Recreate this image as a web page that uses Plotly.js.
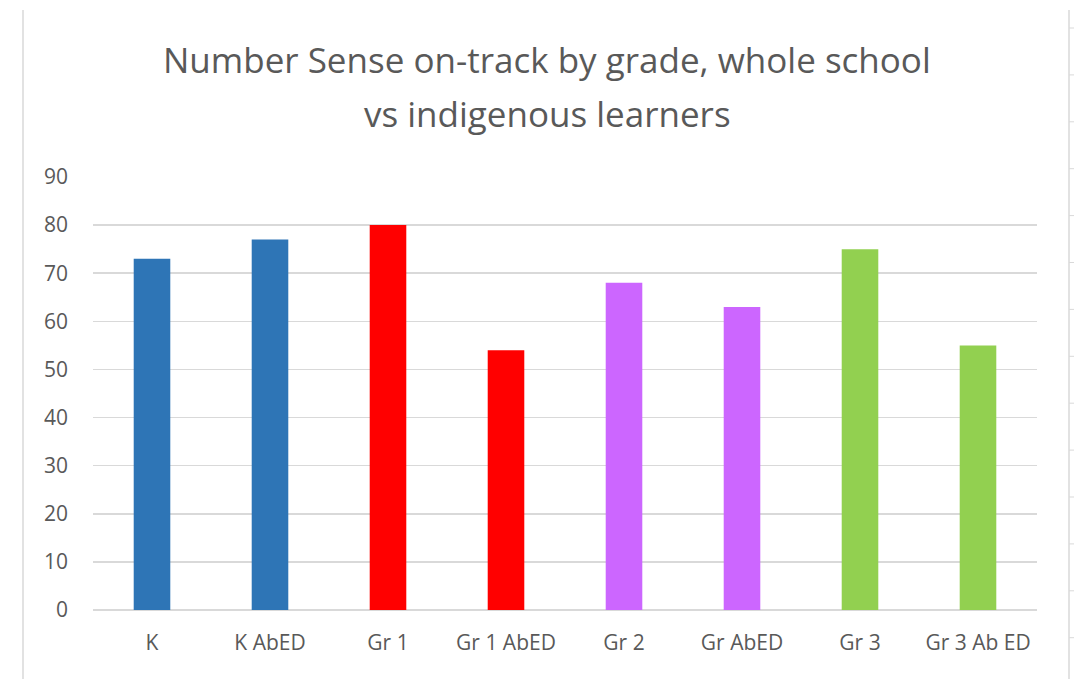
<!DOCTYPE html>
<html>
<head>
<meta charset="utf-8">
<script src="https://cdn.plot.ly/plotly-3.0.1.min.js"></script>
<style>html,body{margin:0;padding:0;background:#fff;}#chart{width:1074px;height:679px;}</style>
</head>
<body>
<div id="chart"></div>
<script>
const categories = ["K", "K AbED", "Gr 1", "Gr 1 AbED", "Gr 2", "Gr AbED", "Gr 3", "Gr 3 Ab ED"];
const values = [73, 77, 80, 54, 68, 63, 75, 55];
const barColors = ["#2E75B6", "#2E75B6", "#FF0000", "#FF0000", "#CC66FF", "#CC66FF", "#92D050", "#92D050"];
const titleLines = ["Number Sense on-track by grade, whole school", "vs indigenous learners"];
const yTicks = [0, 10, 20, 30, 40, 50, 60, 70, 80, 90];

const W = 1074, H = 679;
const L = 93, R = 1037, T = 177, B = 610;
const px = x => (x - L) / (R - L);
const py = y => (B - y) / (B - T);

const shapes = [
  {type: 'line', xref: 'paper', yref: 'paper', x0: px(23), x1: px(23), y0: py(10), y1: py(679), line: {color: '#d9d9d9', width: 1.5}},
  {type: 'line', xref: 'paper', yref: 'paper', x0: px(1069), x1: px(1069), y0: py(10), y1: py(679), line: {color: '#d9d9d9', width: 1.5}}
];
for (let y = 28; y < 679; y += 46.9) {
  shapes.push({type: 'line', xref: 'paper', yref: 'paper', x0: px(1069), x1: px(1074), y0: py(y), y1: py(y), line: {color: '#d9d9d9', width: 1}});
}

const titleFont = {family: 'Open Sans, Noto Sans, sans-serif', size: 35, color: '#595959'};
const annotations = [
  {text: titleLines[0], xref: 'paper', yref: 'paper', x: px(547), y: py(60), showarrow: false, font: titleFont, xanchor: 'center', yanchor: 'middle'},
  {text: titleLines[1], xref: 'paper', yref: 'paper', x: px(547), y: py(113), showarrow: false, font: titleFont, xanchor: 'center', yanchor: 'middle'}
];

const trace = {
  type: 'bar',
  x: categories,
  y: values,
  marker: {color: barColors},
  hoverinfo: 'x+y'
};

const layout = {
  width: W, height: H,
  margin: {l: L, r: W - R, t: T, b: H - B, pad: 0},
  paper_bgcolor: '#ffffff',
  plot_bgcolor: '#ffffff',
  bargap: 0.69,
  showlegend: false,
  font: {family: 'Open Sans, Noto Sans, sans-serif', color: '#595959', size: 21},
  xaxis: {
    type: 'category',
    showgrid: false,
    showline: false,
    zeroline: false,
    ticks: '',
    tickfont: {size: 21, color: '#595959'},
    ticklabelstandoff: 18
  },
  yaxis: {
    range: [0, 90],
    tickvals: yTicks,
    showgrid: true,
    gridcolor: '#d9d9d9',
    gridwidth: 1.5,
    zeroline: true,
    zerolinecolor: '#d9d9d9',
    zerolinewidth: 1.5,
    showline: false,
    ticks: '',
    tickfont: {size: 21, color: '#595959'},
    ticklabelstandoff: 24
  },
  shapes: shapes,
  annotations: annotations
};

Plotly.newPlot('chart', [trace], layout, {displayModeBar: false, staticPlot: true});
</script>
</body>
</html>
